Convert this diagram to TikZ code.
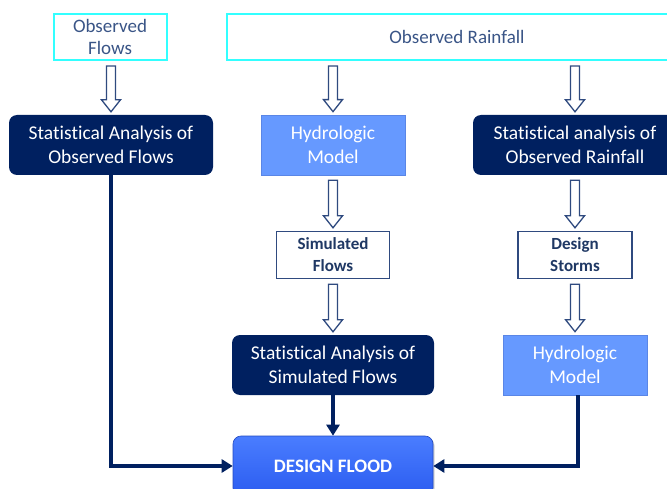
\documentclass[tikz,border=0pt]{standalone}
\usepackage{fontspec}
\setmainfont{Carlito}[Ligatures=NoCommon]
\usetikzlibrary{arrows.meta,calc,shadows}

\definecolor{navy}{HTML}{002060}
\definecolor{aqua}{HTML}{33FFFF}
\definecolor{obstext}{HTML}{3A5587}
\definecolor{outline}{HTML}{2F4A7F}
\definecolor{outtext}{HTML}{1F3864}
\definecolor{model}{HTML}{6699FF}
\definecolor{modeledge}{HTML}{5A86E6}
\definecolor{floodtop}{HTML}{4A7DFF}
\definecolor{floodbot}{HTML}{2B5CF0}

\tikzset{
  inbox/.style={draw=aqua, line width=2pt, fill=white, text=obstext, align=center,
    inner sep=0pt, font=\fontsize{19}{22}\selectfont},
  darkbox/.style={fill=navy, rounded corners=8pt, text=white, align=center, inner sep=0pt,
    minimum width=204pt, minimum height=60pt, font=\fontsize{19.5}{24}\selectfont},
  modelbox/.style={fill=model, draw=modeledge, line width=0.7pt, text=white, align=center,
    inner sep=0pt, minimum width=144pt, minimum height=60pt, font=\fontsize{19.5}{24}\selectfont},
  outbox/.style={draw=outline, line width=1.4pt, fill=white, text=outtext, align=center,
    inner sep=0pt, minimum width=113pt, minimum height=47pt, font=\bfseries\fontsize{17}{22}\selectfont},
  floodbox/.style={draw=floodbot!80!black, line width=0.6pt, rounded corners=8pt,
    top color=floodtop, bottom color=floodbot, text=white, inner sep=0pt,
    minimum width=200pt, minimum height=60pt, font=\bfseries\fontsize{19}{22}\selectfont,
    drop shadow={shadow xshift=1.5pt, shadow yshift=-1.5pt, opacity=0.35}},
  flow/.style={draw=navy, line width=3.5pt, -{Triangle[length=11pt,width=13pt]}},
  hollow/.style={draw=outline, line width=1.3pt, fill=white},
}

% open block arrow from the bottom of #1 to the top of #2
\newcommand{\hollowarrow}[2]{%
  \draw[hollow] let \p1=(#1.south), \p2=(#2.north) in
    (\x2-4.5pt,\y1-5pt) -- (\x2-4.5pt,\y2+15pt) -- (\x2-9.5pt,\y2+15pt) -- (\x2,\y2+3pt)
    -- (\x2+9.5pt,\y2+15pt) -- (\x2+4.5pt,\y2+15pt) -- (\x2+4.5pt,\y1-5pt) -- cycle;}

\begin{document}
\begin{tikzpicture}[x=1pt,y=-1pt,node distance=110pt]
  \clip (0,0) rectangle (667,489);

  % inputs
  \node[inbox, minimum width=113pt, minimum height=46pt] (obsflows) at (110,37) {Observed\\Flows};
  \node[inbox, minimum width=460pt, minimum height=46pt] (rain) at (457,37) {Observed Rainfall};

  % left column
  \node[darkbox] (statflows) at (111,145) {Statistical Analysis of\\Observed Flows};

  % middle column
  \node[modelbox] (hydro) at (333,145) {Hydrologic\\Model};
  \node[outbox] (simflows) [below of=hydro] {Simulated\\Flows};
  \node[darkbox, minimum width=202pt] (statsim) [below of=simflows] {Statistical Analysis of\\Simulated Flows};
  \node[floodbox] (flood) [below of=statsim, node distance=101pt] {DESIGN FLOOD};

  % right column
  \node[darkbox] (statrain) at (575,145) {Statistical analysis of\\Observed Rainfall};
  \node[outbox, minimum width=114pt] (storms) [below of=statrain] {Design\\Storms};
  \node[modelbox] (hydrotwo) [below of=storms] {Hydrologic\\Model};

  \hollowarrow{obsflows}{statflows}
  \hollowarrow{rain}{hydro}
  \hollowarrow{rain}{statrain}
  \hollowarrow{hydro}{simflows}
  \hollowarrow{simflows}{statsim}
  \hollowarrow{statrain}{storms}
  \hollowarrow{storms}{hydrotwo}

  \draw[flow] (statflows.south) |- (flood.west);
  \draw[flow] (statsim.south) -- (flood.north);
  \draw[flow] ([xshift=3pt]hydrotwo.south) |- (flood.east);
\end{tikzpicture}
\end{document}
